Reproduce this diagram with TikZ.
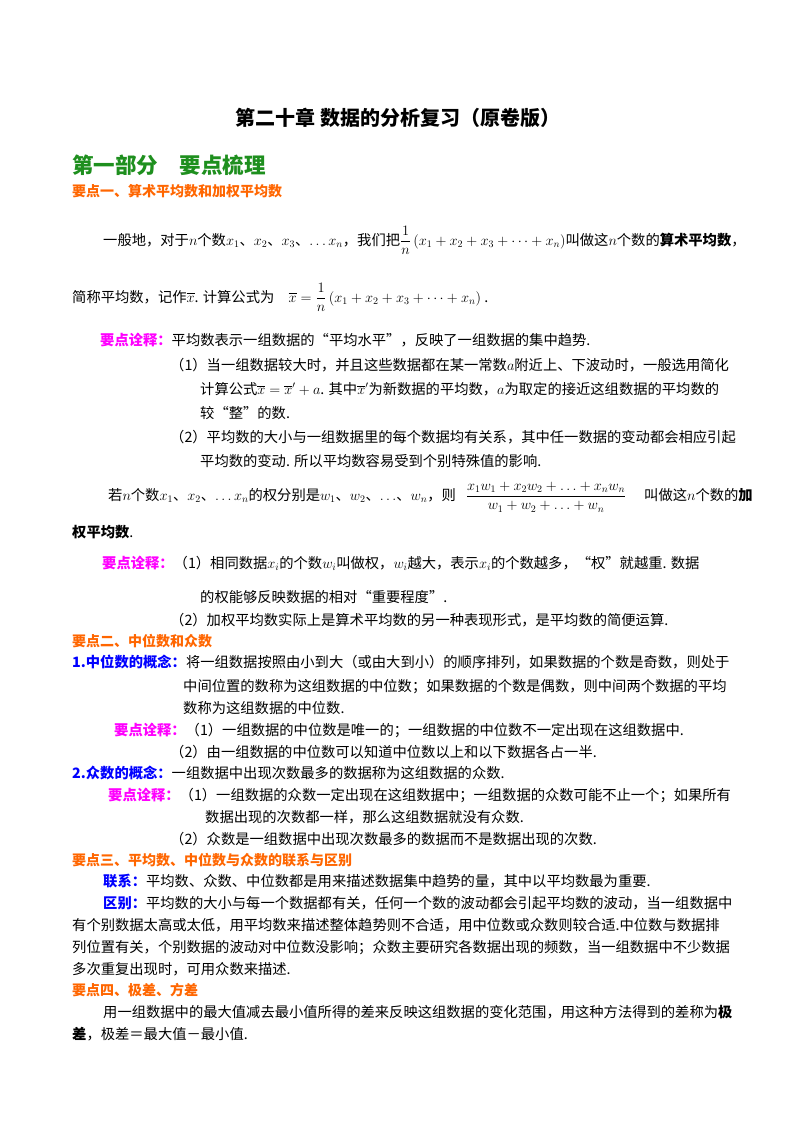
\documentclass[tikz,border=0pt]{standalone}
\usepackage{fontspec}
\usepackage{amsmath}
\setmainfont{Liberation Serif}
\newfontfamily\cjk{Noto Sans CJK SC}
\definecolor{hgreen}{HTML}{1E8F1E}
\definecolor{horange}{HTML}{FF6600}
\definecolor{hmag}{HTML}{FF00FF}
\definecolor{hblue}{HTML}{0000FF}
\tikzset{t/.style={anchor=base west,inner sep=0pt,font=\cjk\fontsize{14.3}{17}\selectfont},
 hd/.style={t,text=horange,font=\cjk\bfseries\fontsize{14}{17}\selectfont}}
\newcommand{\M}[1]{\textcolor{hmag}{\bfseries #1}}
\newcommand{\B}[1]{\textcolor{hblue}{\bfseries #1}}
\begin{document}
\begin{tikzpicture}[x=1pt,y=-1pt]
\useasboundingbox[fill=white] (0,0) rectangle (800,1132);
\node[anchor=base,inner sep=0pt,font=\cjk\bfseries\fontsize{20}{24}\selectfont] (title) at (398,125) {第二十章 数据的分析复习（原卷版）};
\node[t,text=hgreen,font=\cjk\bfseries\fontsize{21.5}{26}\selectfont] (p1) at (72,173) {第一部分\quad 要点梳理};
\node[hd] (h1) at (72,196) {要点一、算术平均数和加权平均数};
\node[t] (l1) at (103,245) {一般地，对于$n$个数$x_1$、$x_2$、$x_3$、$\ldots x_n$，我们把$\dfrac{1}{n}\left(x_1+x_2+x_3+\cdots+x_n\right)$叫做这$n$个数的\textbf{算术平均数}，};
\node[t] (l2) at (72,302) {简称平均数，记作$\overline{x}$. 计算公式为\quad$\overline{x}=\dfrac{1}{n}\left(x_1+x_2+x_3+\cdots+x_n\right)$ .};
\node[t] (l3) at (100,345) {\M{要点诠释：}平均数表示一组数据的“平均水平”，反映了一组数据的集中趋势.};
\node[t] (l4) at (170,370) {（1）当一组数据较大时，并且这些数据都在某一常数$a$附近上、下波动时，一般选用简化};
\node[t] (l5) at (200,394) {计算公式$\overline{x}=\overline{x}'+a$. 其中$\overline{x}'$为新数据的平均数，$a$为取定的接近这组数据的平均数的};
\node[t] (l6) at (200,418) {较“整”的数.};
\node[t] (l7) at (170,442) {（2）平均数的大小与一组数据里的每个数据均有关系，其中任一数据的变动都会相应引起};
\node[t] (l8) at (200,466) {平均数的变动. 所以平均数容易受到个别特殊值的影响.};
\node[t] (l9) at (108,500) {若$n$个数$x_1$、$x_2$、$\ldots x_n$的权分别是$w_1$、$w_2$、$\ldots$、$w_n$，则\hspace{10pt}$\dfrac{x_1w_1+x_2w_2+\ldots+x_nw_n}{w_1+w_2+\ldots+w_n}$\hspace{18pt}叫做这$n$个数的\textbf{加}};
\node[t] (l10) at (72,537) {\textbf{权平均数}.};
\node[t] (l11) at (102,568) {\M{要点诠释：}（1）相同数据$x_i$的个数$w_i$叫做权，$w_i$越大，表示$x_i$的个数越多，“权”就越重. 数据};
\node[t] (l12) at (200,602) {的权能够反映数据的相对“重要程度”.};
\node[t] (l13) at (170,625) {（2）加权平均数实际上是算术平均数的另一种表现形式，是平均数的简便运算.};
\node[hd] (h2) at (72,646) {要点二、中位数和众数};
\node[t] (l14) at (72,667) {\B{1.中位数的概念：}将一组数据按照由小到大（或由大到小）的顺序排列，如果数据的个数是奇数，则处于};
\node[t] (l15) at (183,691) {中间位置的数称为这组数据的中位数；如果数据的个数是偶数，则中间两个数据的平均};
\node[t] (l16) at (183,713) {数称为这组数据的中位数.};
\node[t] (l17) at (114,735) {\M{要点诠释：}（1）一组数据的中位数是唯一的；一组数据的中位数不一定出现在这组数据中.};
\node[t] (l18) at (170,757) {（2）由一组数据的中位数可以知道中位数以上和以下数据各占一半.};
\node[t] (l19) at (72,778) {\B{2.众数的概念：}一组数据中出现次数最多的数据称为这组数据的众数.};
\node[t] (l20) at (108,800) {\M{要点诠释：}（1）一组数据的众数一定出现在这组数据中；一组数据的众数可能不止一个；如果所有};
\node[t] (l21) at (205,822) {数据出现的次数都一样，那么这组数据就没有众数.};
\node[t] (l22) at (170,844) {（2）众数是一组数据中出现次数最多的数据而不是数据出现的次数.};
\node[hd] (h3) at (72,865) {要点三、平均数、中位数与众数的联系与区别};
\node[t] (l23) at (103,886) {\B{联系：}平均数、众数、中位数都是用来描述数据集中趋势的量，其中以平均数最为重要.};
\node[t] (l24) at (103,908) {\B{区别：}平均数的大小与每一个数据都有关，任何一个数的波动都会引起平均数的波动，当一组数据中};
\node[t] (l25) at (72,930) {有个别数据太高或太低，用平均数来描述整体趋势则不合适，用中位数或众数则较合适.中位数与数据排};
\node[t] (l26) at (72,952) {列位置有关，个别数据的波动对中位数没影响；众数主要研究各数据出现的频数，当一组数据中不少数据};
\node[t] (l27) at (72,974) {多次重复出现时，可用众数来描述.};
\node[hd] (h4) at (72,995) {要点四、极差、方差};
\node[t] (l28) at (103,1017) {用一组数据中的最大值减去最小值所得的差来反映这组数据的变化范围，用这种方法得到的差称为\textbf{极}};
\node[t] (l29) at (72,1039) {\textbf{差}，极差＝最大值－最小值.};
\end{tikzpicture}
\end{document}
